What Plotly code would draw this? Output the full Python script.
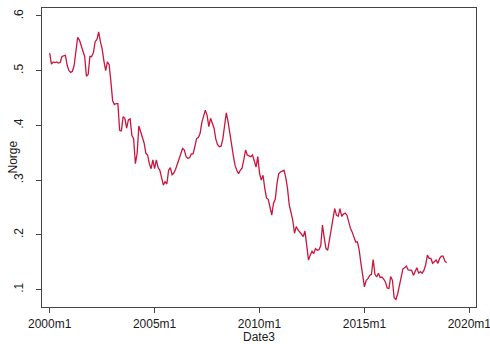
import plotly.graph_objects as go

# Monthly series, 2000m1 .. 2018m12 (month index 0 = 2000m1)
norge = [
    0.532, 0.512, 0.516, 0.515, 0.516, 0.514, 0.515, 0.526, 0.527, 0.528, 0.510, 0.500,
    0.497, 0.499, 0.510, 0.535, 0.561, 0.556, 0.546, 0.536, 0.526, 0.490, 0.493, 0.526,
    0.526, 0.533, 0.553, 0.557, 0.571, 0.553, 0.540, 0.518, 0.500, 0.516, 0.511, 0.480,
    0.445, 0.438, 0.440, 0.440, 0.391, 0.390, 0.416, 0.413, 0.395, 0.410, 0.412, 0.382,
    0.376, 0.330, 0.349, 0.399, 0.390, 0.380, 0.368, 0.349, 0.346, 0.330, 0.321, 0.337,
    0.321, 0.337, 0.323, 0.318, 0.305, 0.291, 0.297, 0.293, 0.318, 0.323, 0.310, 0.313,
    0.320, 0.330, 0.338, 0.346, 0.358, 0.355, 0.343, 0.340, 0.341, 0.348, 0.348, 0.361,
    0.376, 0.378, 0.385, 0.405, 0.416, 0.428, 0.419, 0.398, 0.413, 0.402, 0.395, 0.375,
    0.365, 0.361, 0.362, 0.375, 0.405, 0.423, 0.407, 0.382, 0.366, 0.345, 0.327, 0.318,
    0.312, 0.318, 0.322, 0.337, 0.355, 0.346, 0.344, 0.343, 0.346, 0.337, 0.324, 0.343,
    0.313, 0.300, 0.309, 0.285, 0.267, 0.265, 0.250, 0.236, 0.258, 0.265, 0.294, 0.312,
    0.315, 0.317, 0.318, 0.305, 0.285, 0.255, 0.240, 0.227, 0.203, 0.215, 0.209, 0.205,
    0.200, 0.197, 0.207, 0.180, 0.154, 0.163, 0.170, 0.166, 0.175, 0.172, 0.173, 0.180,
    0.218, 0.195, 0.175, 0.172, 0.190, 0.212, 0.225, 0.248, 0.236, 0.234, 0.248, 0.234,
    0.238, 0.240, 0.236, 0.222, 0.212, 0.205, 0.194, 0.187, 0.187, 0.172, 0.148, 0.123,
    0.105, 0.117, 0.120, 0.126, 0.128, 0.155, 0.128, 0.123, 0.130, 0.122, 0.123, 0.119,
    0.114, 0.103, 0.102, 0.124, 0.117, 0.085, 0.082, 0.092, 0.106, 0.125, 0.138, 0.140,
    0.143, 0.136, 0.136, 0.135, 0.126, 0.135, 0.140, 0.130, 0.133, 0.130, 0.135, 0.145,
    0.163, 0.157, 0.157, 0.148, 0.152, 0.154, 0.148, 0.157, 0.161, 0.161, 0.152, 0.149,
]
months = list(range(len(norge)))

x_tickvals = [0, 60, 120, 180, 240]
x_ticktext = ["2000m1", "2005m1", "2010m1", "2015m1", "2020m1"]
y_tickvals = [0.1, 0.2, 0.3, 0.4, 0.5, 0.6]
y_ticktext = [".1", ".2", ".3", ".4", ".5", ".6"]

fig = go.Figure(
    go.Scatter(
        x=months, y=norge, mode="lines",
        line=dict(color="#c8173f", width=1.3),
        showlegend=False, hoverinfo="skip",
    )
)

font = dict(family="Liberation Sans, Arial, sans-serif", size=12, color="#1a1a1a")

fig.update_layout(
    width=490, height=344,
    margin=dict(l=42, r=14, t=8, b=37),
    paper_bgcolor="white", plot_bgcolor="white",
    font=font,
    xaxis=dict(
        range=[-4.4, 243.8], tickvals=x_tickvals, ticktext=x_ticktext,
        automargin=False, ticklabeloverflow="allow",
        showgrid=False, zeroline=False,
        showline=True, linecolor="#444444", linewidth=1.2, mirror=True,
        ticks="outside", ticklen=5, tickcolor="#444444",
        title=dict(text="Date3", standoff=12, font=font),
    ),
    yaxis=dict(
        range=[0.0682, 0.6146], tickvals=y_tickvals, ticktext=y_ticktext,
        automargin=False, tickangle=-90, ticklabelstandoff=8,
        showgrid=False, zeroline=False,
        showline=True, linecolor="#444444", linewidth=1.2, mirror=True,
        ticks="outside", ticklen=5, tickcolor="#444444",
    ),
    annotations=[
        dict(
            text="Norge", textangle=-90, showarrow=False,
            xref="paper", yref="paper", x=0, y=0.5,
            xanchor="center", yanchor="middle", xshift=-30,
            font=font,
        )
    ],
)

fig.write_html("out.html")
